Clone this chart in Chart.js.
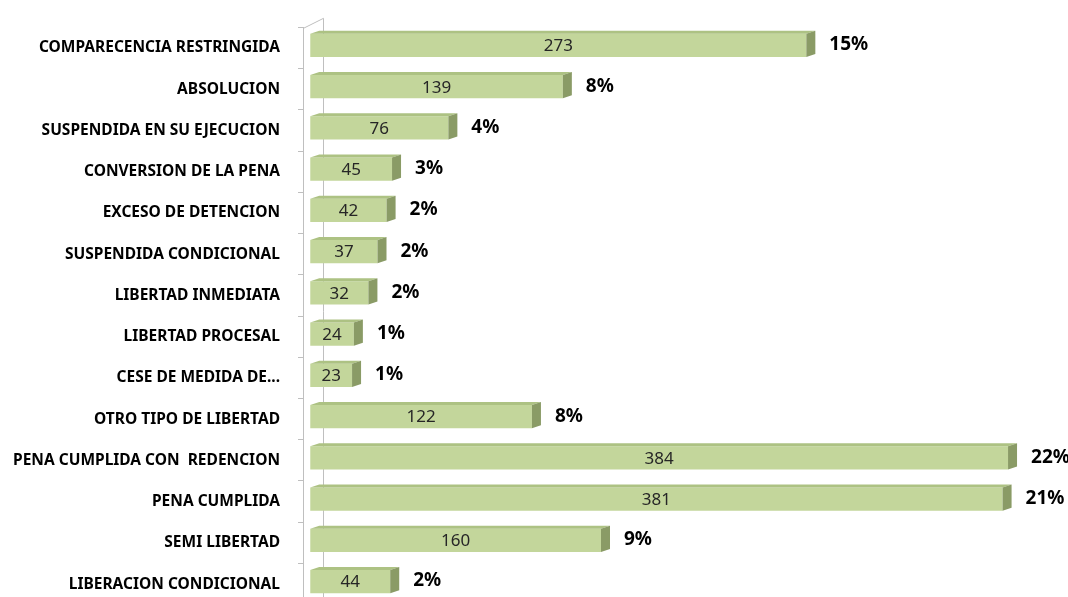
<!DOCTYPE html>
<html>
<head>
<meta charset="utf-8">
<script src="https://cdn.jsdelivr.net/npm/chart.js@4"></script>
<style>
  html, body { margin: 0; padding: 0; background: #fff; }
  #wrap { width: 1068px; height: 597px; overflow: hidden; }
</style>
</head>
<body>
<div id="wrap"><canvas id="chart" width="1068" height="632"></canvas></div>
<script>
// categories, counts and the percent labels shown beside each bar
const categories = [
  'COMPARECENCIA RESTRINGIDA',
  'ABSOLUCION',
  'SUSPENDIDA EN SU EJECUCION',
  'CONVERSION DE LA PENA',
  'EXCESO DE DETENCION',
  'SUSPENDIDA CONDICIONAL',
  'LIBERTAD INMEDIATA',
  'LIBERTAD PROCESAL',
  'CESE DE MEDIDA DE...',
  'OTRO TIPO DE LIBERTAD',
  'PENA CUMPLIDA CON  REDENCION',
  'PENA CUMPLIDA',
  'SEMI LIBERTAD',
  'LIBERACION CONDICIONAL'
];
const counts = [273, 139, 76, 45, 42, 37, 32, 24, 23, 122, 384, 381, 160, 44];
const percents = ['15%', '8%', '4%', '3%', '2%', '2%', '2%', '1%', '1%', '8%', '22%', '21%', '9%', '2%'];

const DX = 9, DY = 3; // depth of the fake 3d

// draws the side + top faces of each bar, and the back wall line
const fake3d = {
  id: 'fake3d',
  beforeDatasetsDraw(chart) {
    const ctx = chart.ctx;
    const area = chart.chartArea;
    ctx.save();
    ctx.strokeStyle = '#bfbfbf';
    ctx.lineWidth = 1;
    ctx.beginPath();
    ctx.moveTo(area.left + 0.5, area.top + 1);
    ctx.lineTo(area.left + 20.5, area.top - 9);
    ctx.lineTo(area.left + 20.5, area.bottom);
    ctx.stroke();
    ctx.restore();

    ctx.save();
    ctx.translate(0, -2.5);
  },
  afterDatasetsDraw(chart) {
    const ctx = chart.ctx;
    const meta = chart.getDatasetMeta(0);
    meta.data.forEach(bar => {
      const top = bar.y - bar.height / 2;
      const bot = bar.y + bar.height / 2;
      const l = bar.base, r = bar.x;
      // top face
      ctx.fillStyle = '#adc283';
      ctx.beginPath();
      ctx.moveTo(l, top);
      ctx.lineTo(l + DX, top - DY);
      ctx.lineTo(r + DX, top - DY);
      ctx.lineTo(r, top);
      ctx.closePath();
      ctx.fill();
      // side face
      ctx.fillStyle = '#8a9b66';
      ctx.beginPath();
      ctx.moveTo(r, top);
      ctx.lineTo(r + DX, top - DY);
      ctx.lineTo(r + DX, bot - DY);
      ctx.lineTo(r, bot);
      ctx.closePath();
      ctx.fill();
    });
    ctx.restore();

    // value labels and percents
    ctx.save();
    ctx.textBaseline = 'middle';
    meta.data.forEach((bar, i) => {
      ctx.fillStyle = '#262626';
      ctx.font = '17px "Noto Sans"';
      ctx.textAlign = 'center';
      ctx.fillText(counts[i], (bar.base + bar.x) / 2, bar.y - 1.5);
      ctx.fillStyle = '#000';
      ctx.font = 'bold 19px "Noto Sans"';
      ctx.textAlign = 'left';
      ctx.fillText(percents[i], bar.x + DX + 14, bar.y - 3);
    });
    ctx.restore();
  }
};

const ctx = document.getElementById('chart').getContext('2d');
const chart = new Chart(ctx, {
  type: 'bar',
  data: {
    labels: categories,
    datasets: [{
      data: counts,
      backgroundColor: '#c3d69b',
      borderWidth: 0,
      categoryPercentage: 1,
      barPercentage: 0.56
    }]
  },
  options: {
    indexAxis: 'y',
    responsive: false,
    animation: false,
    layout: { padding: { top: 24, bottom: 0, right: 0, left: 0 } },
    plugins: { legend: { display: false }, tooltip: { enabled: false } },
    scales: {
      x: { display: false, min: -4, max: 417 },
      y: {
        afterFit(scale) { scale.width = 303; },
        border: { color: '#bfbfbf' },
        grid: { offset: true, drawOnChartArea: false, tickLength: 5, color: '#bfbfbf' },
        ticks: {
          padding: 18,
          color: '#000',
          font: { family: 'Noto Sans', size: 15.5, weight: 'bold' }
        }
      }
    }
  },
  plugins: [fake3d]
});
</script>
</body>
</html>
